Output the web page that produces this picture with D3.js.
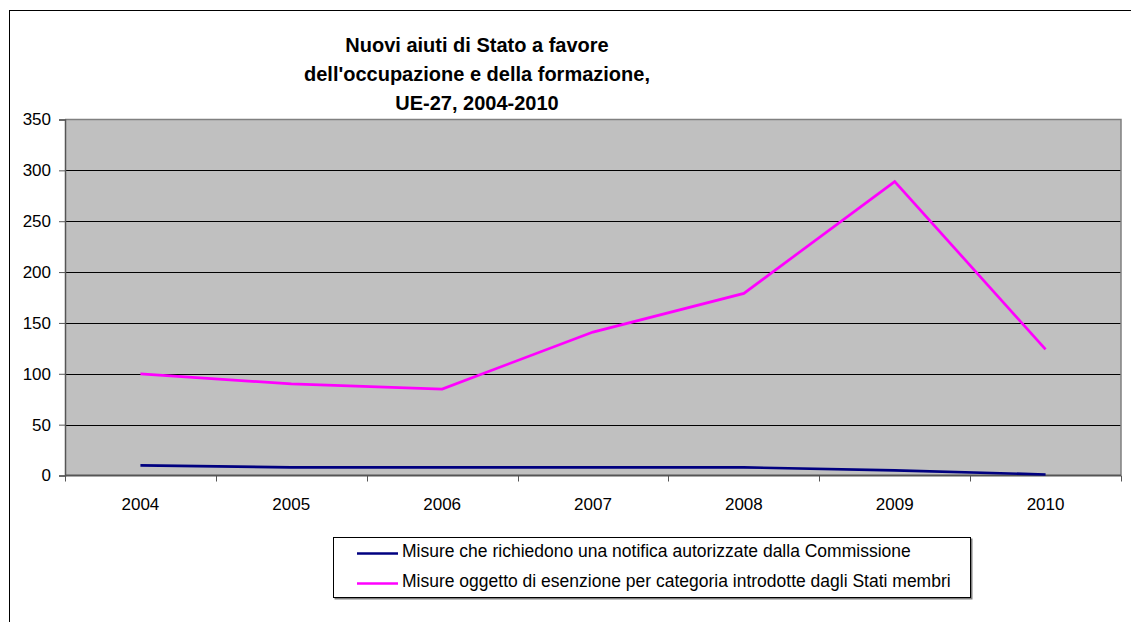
<!DOCTYPE html>
<html><head><meta charset="utf-8">
<script src="https://cdn.jsdelivr.net/npm/d3@7"></script>
<style>body{margin:0;background:#fff}svg{display:block}text{font-family:"Liberation Sans",Arial,sans-serif}</style>
</head><body>
<svg id="c" width="1131" height="622"></svg>
<script>
const years = ["2004","2005","2006","2007","2008","2009","2010"];
const notified = [10, 8, 8, 8, 8, 5, 1];
const exempted = [100, 90, 85, 141, 179, 289, 124];
const yTicks = [0, 50, 100, 150, 200, 250, 300, 350];
const titleLines = ["Nuovi aiuti di Stato a favore", "dell'occupazione e della formazione,", "UE-27, 2004-2010"];
const seriesNames = ["Misure che richiedono una notifica autorizzate dalla Commissione", "Misure oggetto di esenzione per categoria introdotte dagli Stati membri"];
const seriesColors = ["#000080", "#FF00FF"];

const svg = d3.select("#c");
// outer frame (only top & left visible)
svg.append("rect").attr("x",9.5).attr("y",10.5).attr("width",1300).attr("height",800)
  .attr("fill","none").attr("stroke","#000").attr("stroke-width",1);

const L=65, R=1121, T=119.5, B=475.5;
const x = d3.scaleBand().domain(years).range([L,R]);
const y = d3.scaleLinear().domain([0,350]).range([B,T]);
const cx = d => x(d)+x.bandwidth()/2;

svg.append("rect").attr("x",L).attr("y",T).attr("width",R-L).attr("height",B-T).attr("fill","#C0C0C0");

// gridlines
svg.append("g").selectAll("line").data(yTicks.filter(v=>v>0 && v<350)).join("line")
  .attr("x1",L).attr("x2",R).attr("y1",d=>Math.round(y(d))+0.5).attr("y2",d=>Math.round(y(d))+0.5)
  .attr("stroke","#000").attr("stroke-width",1);
// plot border top/right
svg.append("path").attr("d",`M${L},${T}H${R}V${B}`).attr("fill","none").attr("stroke","#808080").attr("stroke-width",1.5);

// y axis
const yAxis = d3.axisLeft(y).tickValues(yTicks).tickSize(6).tickPadding(8);
const gy = svg.append("g").attr("transform",`translate(${L},0)`).call(yAxis);
gy.select(".domain").attr("stroke","#555").attr("stroke-width",1.5);
gy.selectAll(".tick line").attr("stroke","#555");
gy.selectAll("text").attr("font-size",17).attr("fill","#000").attr("font-family",null);

// x axis
const gx = svg.append("g").attr("transform",`translate(0,${B})`);
gx.append("line").attr("x1",L).attr("x2",R).attr("stroke","#555").attr("stroke-width",2);
const bounds = years.map(d=>x(d)).concat([R]);
gx.selectAll("line.t").data(bounds).join("line").attr("class","t")
  .attr("x1",d=>Math.round(d)+0.5).attr("x2",d=>Math.round(d)+0.5).attr("y1",0).attr("y2",6).attr("stroke","#555");
gx.selectAll("text").data(years).join("text").attr("x",cx).attr("y",34)
  .attr("text-anchor","middle").attr("font-size",17).text(d=>d);

// lines
const line = d3.line().x((d,i)=>cx(years[i])).y(d=>y(d));
[notified, exempted].forEach((s,i)=>{
  svg.append("path").datum(s).attr("d",line).attr("fill","none")
    .attr("stroke",seriesColors[i]).attr("stroke-width",2.7).attr("stroke-linejoin","miter");
});

// title
svg.append("g").selectAll("text").data(titleLines).join("text")
  .attr("x",477).attr("y",(d,i)=>52+i*29).attr("text-anchor","middle")
  .attr("font-size",20).attr("font-weight","bold").text(d=>d);

// legend
const lg = svg.append("g");
lg.append("rect").attr("x",334.5).attr("y",538.5).attr("width",638).attr("height",61).attr("fill","#808080");
lg.append("rect").attr("x",333.5).attr("y",537.5).attr("width",637).attr("height",60).attr("fill","#fff").attr("stroke","#000");
seriesNames.forEach((n,i)=>{
  const yy = 553.5 + i*30;
  lg.append("line").attr("x1",357).attr("x2",398).attr("y1",yy).attr("y2",yy).attr("stroke",seriesColors[i]).attr("stroke-width",2.7);
  lg.append("text").attr("x",402).attr("y",yy+3.5).attr("font-size",17.5).text(n);
});
</script>
</body></html>
